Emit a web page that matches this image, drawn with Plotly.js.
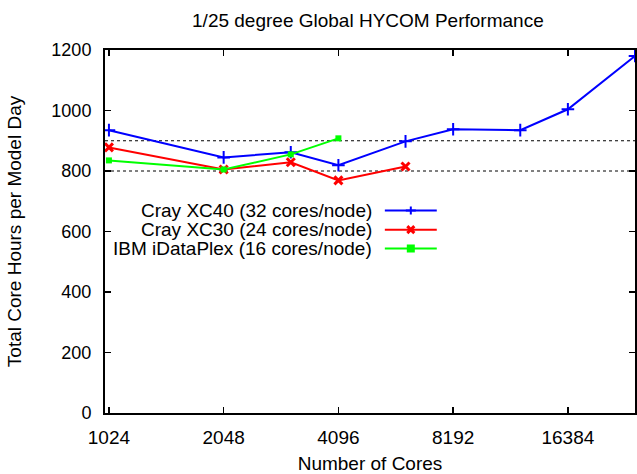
<!DOCTYPE html>
<html><head><meta charset="utf-8">
<script src="https://cdn.plot.ly/plotly-3.0.1.min.js"></script>
<style>html,body{margin:0;padding:0;background:#fff}#chart{width:637px;height:474px}</style>
</head><body><div id="chart"></div>
<script>
const xc40Cores = [1024, 2048, 3072, 4096, 6144, 8192, 12288, 16384, 24576];
const xc40Hours = [935, 845, 862, 819, 898, 938, 935, 1004, 1180];
const xc30Cores = [1024, 2048, 3072, 4096, 6144];
const xc30Hours = [878, 805, 829, 769, 815];
const ibmCores = [1024, 2048, 3072, 4096];
const ibmHours = [835, 805, 855, 908];
const seriesNames = ["Cray XC40 (32 cores/node)", "Cray XC30 (24 cores/node)", "IBM iDataPlex (16 cores/node)"];
const xTicks = [1024, 2048, 4096, 8192, 16384];
const yTicks = [0, 200, 400, 600, 800, 1000, 1200];
const refLines = [800, 900];

const font = "'Liberation Sans', Arial, Helvetica, sans-serif";
const colors = ["#0000ff", "#ff0000", "#00ff00"];
const symbols = ["cross-thin-open", "x-thin-open", "square"];

const traces = [
  {x: xc40Cores, y: xc40Hours, name: seriesNames[0], mode: "lines+markers",
   line: {color: colors[0], width: 2}, marker: {symbol: symbols[0], size: 9, color: colors[0], line: {color: colors[0], width: 2}}},
  {x: xc30Cores, y: xc30Hours, name: seriesNames[1], mode: "lines+markers",
   line: {color: colors[1], width: 2}, marker: {symbol: symbols[1], size: 8, color: colors[1], line: {color: colors[1], width: 3}}},
  {x: ibmCores, y: ibmHours, name: seriesNames[2], mode: "lines+markers",
   line: {color: colors[2], width: 2}, marker: {symbol: symbols[2], size: 6, color: colors[2], line: {width: 0}}}
];

const shapes = refLines.map(v => ({type: "line", xref: "paper", x0: 0, x1: 1, yref: "y", y0: v, y1: v,
  line: {color: "#000", width: 1, dash: "dot"}, layer: "below"}));

// custom legend (text left, sample right, like gnuplot)
const legY = [0.558, 0.505, 0.453];
const annotations = [];
const markerPaths = [
  "M-5,0 L5,0 M0,-4 L0,4",
  "M-3.5,-3.5 L3.5,3.5 M-3.5,3.5 L3.5,-3.5",
  "M-3,-3 L3,-3 L3,3 L-3,3 Z"
];
seriesNames.forEach((n, i) => {
  annotations.push({xref: "paper", yref: "paper", x: 0.506, y: legY[i], xanchor: "right", yanchor: "middle",
    text: n, showarrow: false, borderpad: 0, font: {family: font, size: 19, color: "#000"}});
  shapes.push({type: "line", xref: "paper", yref: "paper", x0: 0.528, x1: 0.626, y0: legY[i], y1: legY[i],
    line: {color: colors[i], width: 2}});
  shapes.push({type: "path", xref: "paper", yref: "paper", xsizemode: "pixel", ysizemode: "pixel",
    xanchor: 0.577, yanchor: legY[i], path: markerPaths[i],
    line: {color: colors[i], width: i === 1 ? 3 : 2}, fillcolor: i === 2 ? colors[i] : "rgba(0,0,0,0)"});
});

const layout = {
  width: 637, height: 474,
  margin: {l: 105, r: 2, t: 50, b: 61},
  paper_bgcolor: "#fff", plot_bgcolor: "#fff",
  showlegend: false,
  font: {family: font, size: 19, color: "#000"},
  title: {text: "1/25 degree Global HYCOM Performance", xref: "paper", x: 0.496, xanchor: "center",
    yref: "container", y: 0.957, yanchor: "middle",
    font: {family: font, size: 19, color: "#000"}},
  xaxis: {type: "log", range: [Math.log10(1000), Math.log10(24576)], tickvals: xTicks, ticktext: xTicks.map(String),
    ticks: "inside", ticklen: 6, tickwidth: 1.5, tickcolor: "#000", showgrid: false, zeroline: false,
    showline: true, linecolor: "#000", linewidth: 2, mirror: "ticks", ticklabelstandoff: 6,
    tickfont: {family: font, size: 19}, title: {text: "Number of Cores", font: {family: font, size: 19}, standoff: 10}},
  yaxis: {range: [0, 1200], tickvals: yTicks, ticks: "inside", ticklen: 6, tickwidth: 1.5, tickcolor: "#000",
    showgrid: false, zeroline: false, showline: true, linecolor: "#000", linewidth: 2, mirror: "ticks", ticklabelstandoff: 8,
    tickfont: {family: font, size: 18}, title: {text: "Total Core Hours per Model Day", font: {family: font, size: 19}, standoff: 25}},
  shapes: shapes,
  annotations: annotations
};

Plotly.newPlot("chart", traces, layout, {displayModeBar: false, staticPlot: true});
</script></body></html>
